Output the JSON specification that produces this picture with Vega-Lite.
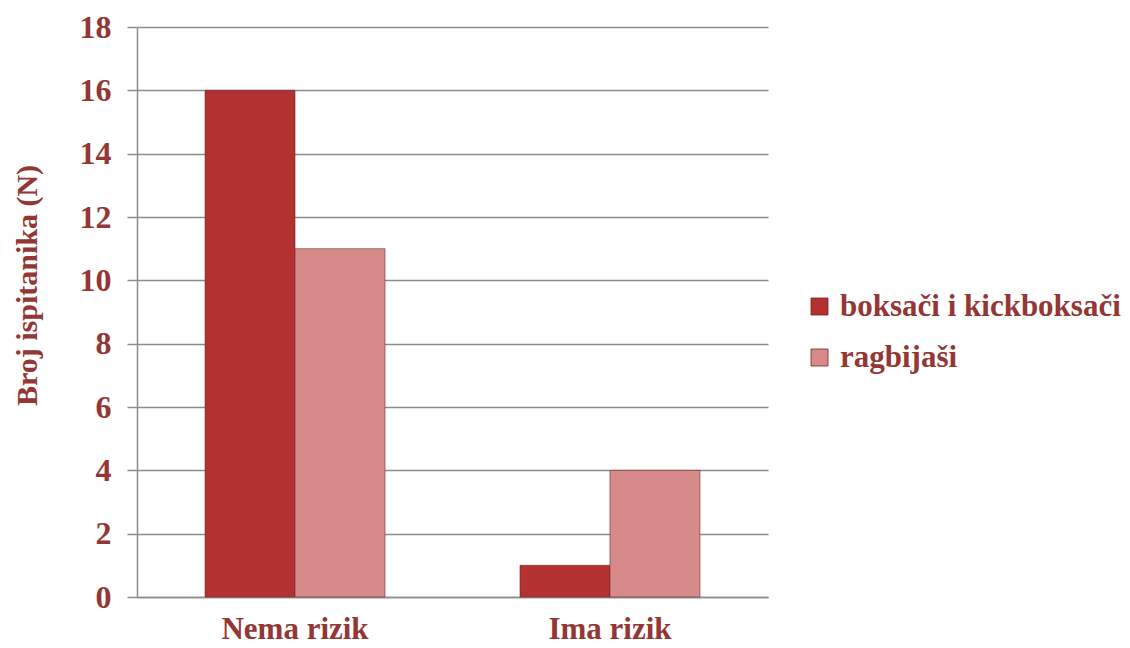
{
  "$schema": "https://vega.github.io/schema/vega-lite/v6.json",
  "autosize": {"type": "none"},
  "width": 631,
  "height": 570,
  "padding": {"left": 137, "top": 27, "right": 362, "bottom": 51},
  "background": "white",
  "data": {"values": [
    {"kategorija": "Nema rizik", "grupa": "boksači i kickboksači", "broj": 16},
    {"kategorija": "Nema rizik", "grupa": "ragbijaši", "broj": 11},
    {"kategorija": "Ima rizik", "grupa": "boksači i kickboksači", "broj": 1},
    {"kategorija": "Ima rizik", "grupa": "ragbijaši", "broj": 4}
  ]},
  "mark": {"type": "bar", "stroke": "#6e2422", "strokeWidth": 0.8, "strokeOpacity": 0.7},
  "encoding": {
    "x": {
      "field": "kategorija", "type": "nominal", "sort": ["Nema rizik", "Ima rizik"],
      "scale": {"paddingInner": 0.4286, "paddingOuter": 0.216},
      "axis": {
        "title": null, "labelAngle": 0, "ticks": false, "domain": true,
        "domainColor": "#8c8c8c", "domainWidth": 1.5,
        "labelFont": "Liberation Serif", "labelFontWeight": "bold", "labelFontSize": 31,
        "labelColor": "#943634", "labelPadding": 17
      }
    },
    "xOffset": {"field": "grupa", "type": "nominal", "sort": ["boksači i kickboksači", "ragbijaši"], "scale": {"paddingInner": 0, "paddingOuter": 0}},
    "y": {
      "field": "broj", "type": "quantitative",
      "scale": {"domain": [0, 18], "nice": false},
      "axis": {
        "title": "Broj ispitanika (N)", "values": [0, 2, 4, 6, 8, 10, 12, 14, 16, 18],
        "grid": true, "gridColor": "#8c8c8c", "gridWidth": 1.5,
        "domain": true, "domainColor": "#8c8c8c", "domainWidth": 1.5,
        "ticks": true, "tickSize": 10, "tickColor": "#8c8c8c", "tickWidth": 1.5,
        "labelFont": "Liberation Serif", "labelFontWeight": "bold", "labelFontSize": 32,
        "labelColor": "#943634", "labelPadding": 16,
        "titleFont": "Liberation Serif", "titleFontWeight": "bold", "titleFontSize": 30,
        "titleColor": "#943634", "titlePadding": 37, "titleY": 258
      }
    },
    "color": {
      "field": "grupa", "type": "nominal", "sort": ["boksači i kickboksači", "ragbijaši"],
      "scale": {"domain": ["boksači i kickboksači", "ragbijaši"], "range": ["#b33131", "#d68a8a"]},
      "legend": {
        "title": null, "orient": "none", "legendX": 667, "legendY": 264,
        "symbolType": "square", "symbolSize": 289, "symbolStrokeColor": "#6e2422", "symbolStrokeWidth": 0.8,
        "labelFont": "Liberation Serif", "labelFontWeight": "bold", "labelFontSize": 31,
        "labelColor": "#943634", "labelOffset": 5, "rowPadding": 19, "labelLimit": 400
      }
    }
  },
  "config": {"view": {"stroke": null}}
}
